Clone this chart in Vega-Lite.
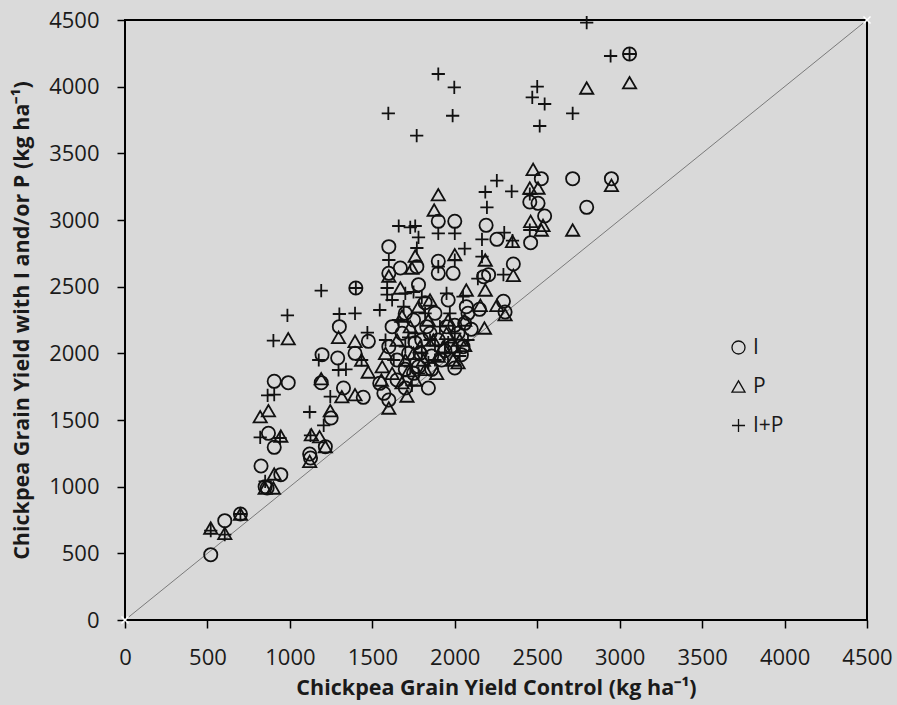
{
  "$schema": "https://vega.github.io/schema/vega-lite/v6.json",
  "autosize": "none",
  "width": 742,
  "height": 600,
  "padding": {"left": 125, "top": 20, "right": 30, "bottom": 85},
  "background": "#dadada",
  "config": {
    "font": "Open Sans",
    "view": {"stroke": "#000000", "strokeWidth": 2, "fill": "#d9d9d9"},
    "axis": {"grid": false, "domain": false, "tickColor": "#000000", "tickWidth": 1.5, "tickSize": 8, "labelFont": "Open Sans", "labelFontSize": 22, "labelColor": "#1a1a1a", "labelFlush": false, "labelOverlap": false, "format": "d", "titleFont": "Open Sans", "titleFontSize": 21.5, "titleFontWeight": "bold", "titleColor": "#1a1a1a"}
  },
  "datasets": {
    "diag": [{"control": 0, "treated": 0}, {"control": 4500, "treated": 4500}],
    "pts": [
      {"control": 520, "treated": 490, "series": "I"},
      {"control": 605, "treated": 745, "series": "I"},
      {"control": 700, "treated": 795, "series": "I"},
      {"control": 825, "treated": 1155, "series": "I"},
      {"control": 850, "treated": 1000, "series": "I"},
      {"control": 862, "treated": 990, "series": "I"},
      {"control": 870, "treated": 1400, "series": "I"},
      {"control": 905, "treated": 1295, "series": "I"},
      {"control": 945, "treated": 1090, "series": "I"},
      {"control": 905, "treated": 1790, "series": "I"},
      {"control": 990, "treated": 1780, "series": "I"},
      {"control": 1120, "treated": 1245, "series": "I"},
      {"control": 1125, "treated": 1215, "series": "I"},
      {"control": 1190, "treated": 1780, "series": "I"},
      {"control": 1195, "treated": 1990, "series": "I"},
      {"control": 1215, "treated": 1300, "series": "I"},
      {"control": 1250, "treated": 1515, "series": "I"},
      {"control": 1290, "treated": 1965, "series": "I"},
      {"control": 1300, "treated": 2200, "series": "I"},
      {"control": 1325, "treated": 1740, "series": "I"},
      {"control": 1395, "treated": 2000, "series": "I"},
      {"control": 1400, "treated": 2490, "series": "I"},
      {"control": 1445, "treated": 1670, "series": "I"},
      {"control": 1476, "treated": 2090, "series": "I"},
      {"control": 1545, "treated": 1775, "series": "I"},
      {"control": 1570, "treated": 1700, "series": "I"},
      {"control": 1600, "treated": 1650, "series": "I"},
      {"control": 1600, "treated": 2800, "series": "I"},
      {"control": 1600, "treated": 2600, "series": "I"},
      {"control": 1670, "treated": 2640, "series": "I"},
      {"control": 1700, "treated": 1740, "series": "I"},
      {"control": 1770, "treated": 2650, "series": "I"},
      {"control": 1780, "treated": 2515, "series": "I"},
      {"control": 1840, "treated": 1740, "series": "I"},
      {"control": 1900, "treated": 2990, "series": "I"},
      {"control": 1900, "treated": 2690, "series": "I"},
      {"control": 1900, "treated": 2600, "series": "I"},
      {"control": 2000, "treated": 2990, "series": "I"},
      {"control": 1990, "treated": 2600, "series": "I"},
      {"control": 2000, "treated": 1890, "series": "I"},
      {"control": 2000, "treated": 2210, "series": "I"},
      {"control": 2060, "treated": 2225, "series": "I"},
      {"control": 2070, "treated": 2350, "series": "I"},
      {"control": 2150, "treated": 2330, "series": "I"},
      {"control": 2175, "treated": 2575, "series": "I"},
      {"control": 2190, "treated": 2960, "series": "I"},
      {"control": 2205, "treated": 2590, "series": "I"},
      {"control": 2255, "treated": 2855, "series": "I"},
      {"control": 2295, "treated": 2390, "series": "I"},
      {"control": 2305, "treated": 2310, "series": "I"},
      {"control": 2355, "treated": 2670, "series": "I"},
      {"control": 2460, "treated": 2830, "series": "I"},
      {"control": 2455, "treated": 3135, "series": "I"},
      {"control": 2505, "treated": 3125, "series": "I"},
      {"control": 2525, "treated": 3310, "series": "I"},
      {"control": 2545, "treated": 3030, "series": "I"},
      {"control": 2715, "treated": 3310, "series": "I"},
      {"control": 2800, "treated": 3095, "series": "I"},
      {"control": 2950, "treated": 3310, "series": "I"},
      {"control": 3060, "treated": 4245, "series": "I"},
      {"control": 1600, "treated": 2050, "series": "I"},
      {"control": 1650, "treated": 1950, "series": "I"},
      {"control": 1680, "treated": 2150, "series": "I"},
      {"control": 1720, "treated": 2000, "series": "I"},
      {"control": 1750, "treated": 2250, "series": "I"},
      {"control": 1780, "treated": 1900, "series": "I"},
      {"control": 1800, "treated": 2100, "series": "I"},
      {"control": 1830, "treated": 2200, "series": "I"},
      {"control": 1860, "treated": 1980, "series": "I"},
      {"control": 1880, "treated": 2300, "series": "I"},
      {"control": 1900, "treated": 2100, "series": "I"},
      {"control": 1920, "treated": 1950, "series": "I"},
      {"control": 1950, "treated": 2200, "series": "I"},
      {"control": 1980, "treated": 2050, "series": "I"},
      {"control": 2020, "treated": 2150, "series": "I"},
      {"control": 2050, "treated": 2050, "series": "I"},
      {"control": 2080, "treated": 2300, "series": "I"},
      {"control": 1750, "treated": 1850, "series": "I"},
      {"control": 1700, "treated": 2300, "series": "I"},
      {"control": 1820, "treated": 2380, "series": "I"},
      {"control": 1620, "treated": 2200, "series": "I"},
      {"control": 1960, "treated": 2400, "series": "I"},
      {"control": 2100, "treated": 2180, "series": "I"},
      {"control": 1650, "treated": 1800, "series": "I"},
      {"control": 1790, "treated": 2000, "series": "I"},
      {"control": 1860, "treated": 1880, "series": "I"},
      {"control": 1940, "treated": 2020, "series": "I"},
      {"control": 2040, "treated": 1990, "series": "I"},
      {"control": 1700, "treated": 1880, "series": "I"},
      {"control": 1850, "treated": 2150, "series": "I"},
      {"control": 1760, "treated": 2080, "series": "I"},

      {"control": 520, "treated": 690, "series": "P"},
      {"control": 605, "treated": 650, "series": "P"},
      {"control": 700, "treated": 795, "series": "P"},
      {"control": 820, "treated": 1525, "series": "P"},
      {"control": 850, "treated": 990, "series": "P"},
      {"control": 870, "treated": 1570, "series": "P"},
      {"control": 900, "treated": 990, "series": "P"},
      {"control": 905, "treated": 1095, "series": "P"},
      {"control": 945, "treated": 1380, "series": "P"},
      {"control": 990, "treated": 2110, "series": "P"},
      {"control": 1120, "treated": 1190, "series": "P"},
      {"control": 1130, "treated": 1390, "series": "P"},
      {"control": 1180, "treated": 1375, "series": "P"},
      {"control": 1190, "treated": 1810, "series": "P"},
      {"control": 1215, "treated": 1300, "series": "P"},
      {"control": 1245, "treated": 1570, "series": "P"},
      {"control": 1295, "treated": 2120, "series": "P"},
      {"control": 1315, "treated": 1675, "series": "P"},
      {"control": 1395, "treated": 1690, "series": "P"},
      {"control": 1395, "treated": 2090, "series": "P"},
      {"control": 1435, "treated": 1950, "series": "P"},
      {"control": 1475, "treated": 1860, "series": "P"},
      {"control": 1555, "treated": 1800, "series": "P"},
      {"control": 1600, "treated": 1590, "series": "P"},
      {"control": 1600, "treated": 2580, "series": "P"},
      {"control": 1670, "treated": 2490, "series": "P"},
      {"control": 1710, "treated": 1680, "series": "P"},
      {"control": 1740, "treated": 2640, "series": "P"},
      {"control": 1760, "treated": 2730, "series": "P"},
      {"control": 1875, "treated": 3075, "series": "P"},
      {"control": 1900, "treated": 3190, "series": "P"},
      {"control": 2000, "treated": 2740, "series": "P"},
      {"control": 2060, "treated": 2060, "series": "P"},
      {"control": 2070, "treated": 2475, "series": "P"},
      {"control": 2155, "treated": 2360, "series": "P"},
      {"control": 2180, "treated": 2190, "series": "P"},
      {"control": 2185, "treated": 2475, "series": "P"},
      {"control": 2185, "treated": 2700, "series": "P"},
      {"control": 2255, "treated": 2360, "series": "P"},
      {"control": 2305, "treated": 2290, "series": "P"},
      {"control": 2350, "treated": 2840, "series": "P"},
      {"control": 2355, "treated": 2585, "series": "P"},
      {"control": 2455, "treated": 3240, "series": "P"},
      {"control": 2460, "treated": 2990, "series": "P"},
      {"control": 2475, "treated": 3380, "series": "P"},
      {"control": 2505, "treated": 3240, "series": "P"},
      {"control": 2525, "treated": 2925, "series": "P"},
      {"control": 2535, "treated": 2960, "series": "P"},
      {"control": 2715, "treated": 2925, "series": "P"},
      {"control": 2800, "treated": 3990, "series": "P"},
      {"control": 2950, "treated": 3260, "series": "P"},
      {"control": 3060, "treated": 4030, "series": "P"},
      {"control": 1560, "treated": 1900, "series": "P"},
      {"control": 1620, "treated": 1850, "series": "P"},
      {"control": 1650, "treated": 2100, "series": "P"},
      {"control": 1700, "treated": 1950, "series": "P"},
      {"control": 1730, "treated": 2200, "series": "P"},
      {"control": 1760, "treated": 1800, "series": "P"},
      {"control": 1790, "treated": 2050, "series": "P"},
      {"control": 1810, "treated": 1950, "series": "P"},
      {"control": 1840, "treated": 2250, "series": "P"},
      {"control": 1870, "treated": 2100, "series": "P"},
      {"control": 1890, "treated": 1850, "series": "P"},
      {"control": 1930, "treated": 2050, "series": "P"},
      {"control": 1960, "treated": 2250, "series": "P"},
      {"control": 1990, "treated": 1950, "series": "P"},
      {"control": 2030, "treated": 2100, "series": "P"},
      {"control": 2060, "treated": 2250, "series": "P"},
      {"control": 1720, "treated": 1870, "series": "P"},
      {"control": 1680, "treated": 2280, "series": "P"},
      {"control": 1850, "treated": 2400, "series": "P"},
      {"control": 1950, "treated": 2150, "series": "P"},
      {"control": 2000, "treated": 2050, "series": "P"},
      {"control": 1780, "treated": 2350, "series": "P"},
      {"control": 1580, "treated": 2000, "series": "P"},
      {"control": 1820, "treated": 1880, "series": "P"},
      {"control": 1900, "treated": 1980, "series": "P"},
      {"control": 1680, "treated": 1780, "series": "P"},
      {"control": 1750, "treated": 2000, "series": "P"},
      {"control": 2020, "treated": 1930, "series": "P"},

      {"control": 520, "treated": 670, "series": "I+P"},
      {"control": 605, "treated": 640, "series": "I+P"},
      {"control": 700, "treated": 795, "series": "I+P"},
      {"control": 820, "treated": 1370, "series": "I+P"},
      {"control": 850, "treated": 1040, "series": "I+P"},
      {"control": 865, "treated": 1685, "series": "I+P"},
      {"control": 905, "treated": 1690, "series": "I+P"},
      {"control": 900, "treated": 2095, "series": "I+P"},
      {"control": 940, "treated": 1365, "series": "I+P"},
      {"control": 985, "treated": 2285, "series": "I+P"},
      {"control": 1120, "treated": 1560, "series": "I+P"},
      {"control": 1125, "treated": 1385, "series": "I+P"},
      {"control": 1175, "treated": 1950, "series": "I+P"},
      {"control": 1190, "treated": 2470, "series": "I+P"},
      {"control": 1205, "treated": 1460, "series": "I+P"},
      {"control": 1245, "treated": 1675, "series": "I+P"},
      {"control": 1295, "treated": 1875, "series": "I+P"},
      {"control": 1300, "treated": 2295, "series": "I+P"},
      {"control": 1340, "treated": 1880, "series": "I+P"},
      {"control": 1395, "treated": 2300, "series": "I+P"},
      {"control": 1400, "treated": 2490, "series": "I+P"},
      {"control": 1435, "treated": 1950, "series": "I+P"},
      {"control": 1470, "treated": 2155, "series": "I+P"},
      {"control": 1545, "treated": 2325, "series": "I+P"},
      {"control": 1590, "treated": 2490, "series": "I+P"},
      {"control": 1590, "treated": 2440, "series": "I+P"},
      {"control": 1600, "treated": 2700, "series": "I+P"},
      {"control": 1597, "treated": 3800, "series": "I+P"},
      {"control": 1769, "treated": 3633, "series": "I+P"},
      {"control": 1900, "treated": 4095, "series": "I+P"},
      {"control": 1997, "treated": 3995, "series": "I+P"},
      {"control": 1987, "treated": 3782, "series": "I+P"},
      {"control": 1660, "treated": 2955, "series": "I+P"},
      {"control": 1700, "treated": 2450, "series": "I+P"},
      {"control": 1730, "treated": 2945, "series": "I+P"},
      {"control": 1750, "treated": 2460, "series": "I+P"},
      {"control": 1760, "treated": 2955, "series": "I+P"},
      {"control": 1770, "treated": 2790, "series": "I+P"},
      {"control": 1780, "treated": 2870, "series": "I+P"},
      {"control": 1740, "treated": 1760, "series": "I+P"},
      {"control": 1900, "treated": 2900, "series": "I+P"},
      {"control": 1900, "treated": 2650, "series": "I+P"},
      {"control": 2000, "treated": 2900, "series": "I+P"},
      {"control": 2000, "treated": 2700, "series": "I+P"},
      {"control": 2060, "treated": 2785, "series": "I+P"},
      {"control": 2050, "treated": 2425, "series": "I+P"},
      {"control": 2140, "treated": 2560, "series": "I+P"},
      {"control": 2165, "treated": 2855, "series": "I+P"},
      {"control": 2165, "treated": 2725, "series": "I+P"},
      {"control": 2185, "treated": 3210, "series": "I+P"},
      {"control": 2195, "treated": 3095, "series": "I+P"},
      {"control": 2255, "treated": 3295, "series": "I+P"},
      {"control": 2295, "treated": 2590, "series": "I+P"},
      {"control": 2300, "treated": 2905, "series": "I+P"},
      {"control": 2345, "treated": 3215, "series": "I+P"},
      {"control": 2350, "treated": 2845, "series": "I+P"},
      {"control": 2455, "treated": 3195, "series": "I+P"},
      {"control": 2455, "treated": 2925, "series": "I+P"},
      {"control": 2470, "treated": 3920, "series": "I+P"},
      {"control": 2500, "treated": 4000, "series": "I+P"},
      {"control": 2515, "treated": 3705, "series": "I+P"},
      {"control": 2545, "treated": 3870, "series": "I+P"},
      {"control": 2715, "treated": 3800, "series": "I+P"},
      {"control": 2800, "treated": 4480, "series": "I+P"},
      {"control": 2945, "treated": 4230, "series": "I+P"},
      {"control": 3060, "treated": 4245, "series": "I+P"},
      {"control": 1580, "treated": 2100, "series": "I+P"},
      {"control": 1630, "treated": 1950, "series": "I+P"},
      {"control": 1660, "treated": 2250, "series": "I+P"},
      {"control": 1700, "treated": 2050, "series": "I+P"},
      {"control": 1730, "treated": 1900, "series": "I+P"},
      {"control": 1760, "treated": 2150, "series": "I+P"},
      {"control": 1800, "treated": 2000, "series": "I+P"},
      {"control": 1820, "treated": 2300, "series": "I+P"},
      {"control": 1850, "treated": 2100, "series": "I+P"},
      {"control": 1880, "treated": 1950, "series": "I+P"},
      {"control": 1910, "treated": 2200, "series": "I+P"},
      {"control": 1940, "treated": 2000, "series": "I+P"},
      {"control": 1970, "treated": 2300, "series": "I+P"},
      {"control": 2000, "treated": 2150, "series": "I+P"},
      {"control": 2030, "treated": 1980, "series": "I+P"},
      {"control": 2080, "treated": 2100, "series": "I+P"},
      {"control": 1690, "treated": 2350, "series": "I+P"},
      {"control": 1800, "treated": 2420, "series": "I+P"},
      {"control": 1620, "treated": 2400, "series": "I+P"},
      {"control": 1950, "treated": 2450, "series": "I+P"},
      {"control": 1880, "treated": 2060, "series": "I+P"},
      {"control": 1780, "treated": 1850, "series": "I+P"},
      {"control": 1840, "treated": 1930, "series": "I+P"},
      {"control": 1960, "treated": 2080, "series": "I+P"},
      {"control": 1720, "treated": 2120, "series": "I+P"}
    ]
  },
  "layer": [
    {
      "data": {"name": "diag"},
      "mark": {"type": "line", "color": "#7a7a7a", "strokeWidth": 1, "clip": true},
      "encoding": {
        "x": {"field": "control", "type": "quantitative", "scale": {"domain": [0, 4500], "nice": false},
          "axis": {"values": [0, 500, 1000, 1500, 2000, 2500, 3000, 3500, 4000, 4500], "labelPadding": 19, "title": "Chickpea Grain Yield Control (kg ha⁻¹)", "titlePadding": 9}},
        "y": {"field": "treated", "type": "quantitative", "scale": {"domain": [0, 4500], "nice": false},
          "axis": {"values": [0, 500, 1000, 1500, 2000, 2500, 3000, 3500, 4000, 4500], "labelPadding": 18, "title": "Chickpea Grain Yield with I and/or P (kg ha⁻¹)", "titlePadding": 15}}
      }
    },
    {
      "data": {"name": "diag"},
      "mark": {"type": "point", "shape": "M-1,-1L1,1M-1,1L1,-1", "stroke": "#ffffff", "strokeWidth": 1.5, "size": 50, "filled": false, "opacity": 1, "clip": false},
      "encoding": {
        "x": {"field": "control", "type": "quantitative"},
        "y": {"field": "treated", "type": "quantitative"}
      }
    },
    {
      "data": {"name": "pts"},
      "mark": {"type": "point", "filled": false, "stroke": "#111111", "strokeWidth": 1.8, "opacity": 1, "size": 175},
      "encoding": {
        "x": {"field": "control", "type": "quantitative"},
        "y": {"field": "treated", "type": "quantitative"},
        "shape": {"field": "series", "type": "nominal",
          "scale": {"domain": ["I", "P", "I+P"], "range": ["circle", "triangle-up", "M-1,0L1,0M0,-1L0,1"]},
          "legend": {"title": null, "orient": "none", "legendX": 603, "legendY": 317, "labelFont": "Open Sans", "labelFontSize": 21, "labelColor": "#1a1a1a", "symbolSize": 170, "symbolStrokeWidth": 1.3, "symbolStrokeColor": "#111111", "rowPadding": 17, "labelOffset": 4}}
      }
    }
  ]
}
